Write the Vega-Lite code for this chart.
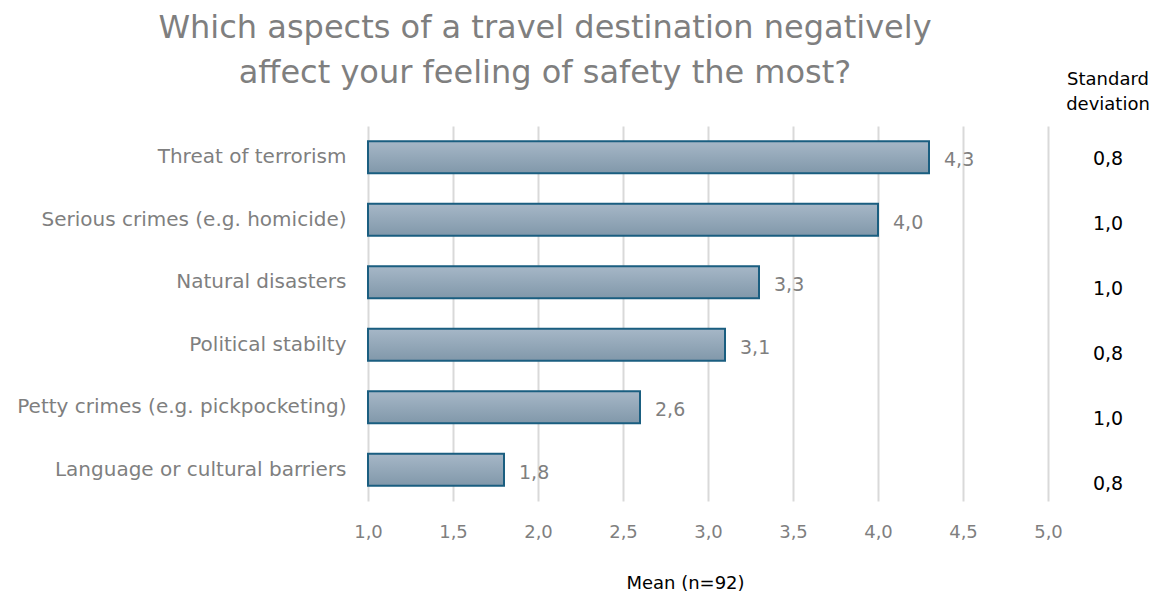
{
  "$schema": "https://vega.github.io/schema/vega-lite/v6.json",
  "config": {
    "locale": {"number": {"decimal": ",", "thousands": ".", "grouping": [3], "currency": ["", " €"]}},
    "view": {"stroke": null},
    "font": "DejaVu Sans"
  },
  "padding": {"left": 8, "top": 12, "right": 2, "bottom": 2},
  "data": {
    "values": [
      {"aspect": "Threat of terrorism", "mean": 4.3, "sd": 0.8},
      {"aspect": "Serious crimes (e.g. homicide)", "mean": 4.0, "sd": 1.0},
      {"aspect": "Natural disasters", "mean": 3.3, "sd": 1.0},
      {"aspect": "Political stabilty", "mean": 3.1, "sd": 0.8},
      {"aspect": "Petty crimes (e.g. pickpocketing)", "mean": 2.6, "sd": 1.0},
      {"aspect": "Language or cultural barriers", "mean": 1.8, "sd": 0.8}
    ]
  },
  "spacing": 10,
  "bounds": "flush",
  "resolve": {"scale": {"y": "independent"}},
  "hconcat": [
    {
      "width": 680,
      "height": 375,
      "title": {
        "text": ["Which aspects of a travel destination negatively", "affect your feeling of safety the most?"],
        "fontSize": 32, "fontWeight": "normal", "color": "#7f7f7f", "lineHeight": 45,
        "anchor": "middle", "frame": "group", "dx": -163, "offset": 36
      },
      "encoding": {
        "y": {
          "field": "aspect", "type": "nominal", "sort": null,
          "scale": {"paddingInner": 0.49, "paddingOuter": 0.245},
          "axis": {"title": null, "domain": false, "ticks": false, "labelFontSize": 20, "labelColor": "#7f7f7f",
                   "labelPadding": 22, "minExtent": 360, "maxExtent": 360, "labelLimit": 400}
        }
      },
      "layer": [
        {
          "mark": {
            "type": "bar",
            "color": {"gradient": "linear", "x1": 0, "y1": 0, "x2": 0, "y2": 1,
                      "stops": [{"offset": 0, "color": "#a6b7c7"}, {"offset": 1, "color": "#8198aa"}]},
            "stroke": "#1a5e80", "strokeWidth": 2
          },
          "encoding": {
            "x": {
              "field": "mean", "type": "quantitative",
              "scale": {"domain": [1, 5], "zero": false, "nice": false},
              "axis": {
                "title": "Mean (n=92)", "titleColor": "black", "titleFontSize": 18, "titleFontWeight": "normal",
                "titlePadding": 33, "titleX": 317,
                "values": [1, 1.5, 2, 2.5, 3, 3.5, 4, 4.5, 5], "format": ".1f", "labelFlush": false,
                "labelFontSize": 18, "labelColor": "#7f7f7f", "labelPadding": 22,
                "domain": false, "ticks": false, "gridColor": "#d9d9d9", "gridWidth": 2
              }
            },
            "x2": {"datum": 1}
          }
        },
        {
          "mark": {"type": "text", "align": "left", "dx": 15, "dy": 3, "fontSize": 19, "color": "#7f7f7f"},
          "encoding": {
            "x": {"field": "mean", "type": "quantitative"},
            "text": {"field": "mean", "type": "quantitative", "format": ".1f"}
          }
        }
      ]
    },
    {
      "width": 100,
      "height": 390,
      "title": {
        "text": ["Standard", "deviation"],
        "fontSize": 18, "fontWeight": "normal", "color": "black", "lineHeight": 25, "offset": 12
      },
      "mark": {"type": "text", "fontSize": 19, "color": "black"},
      "encoding": {
        "y": {"field": "aspect", "type": "nominal", "sort": null, "axis": null,
              "scale": {"paddingInner": 0.49, "paddingOuter": 0.245}},
        "text": {"field": "sd", "type": "quantitative", "format": ".1f"}
      }
    }
  ]
}
